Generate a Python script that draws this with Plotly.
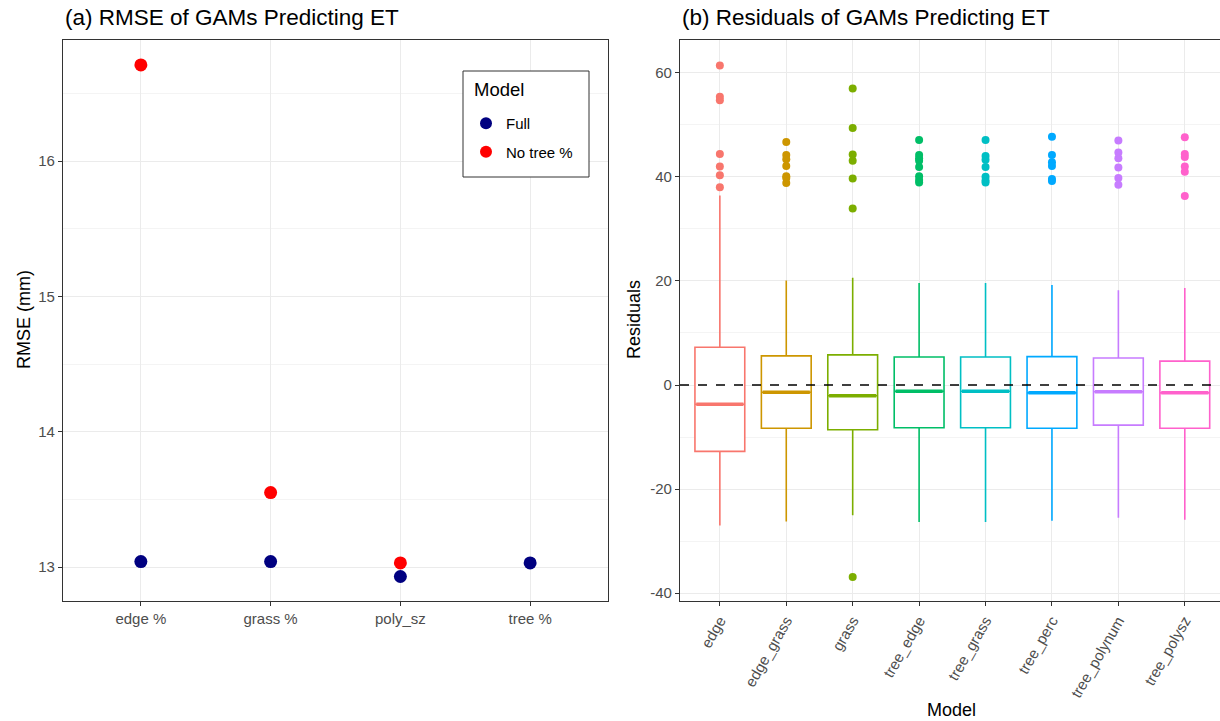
import plotly.graph_objects as go

# ---- Panel (a) data ----
rmse_vars = ["edge %", "grass %", "poly_sz", "tree %"]
rmse_full = [13.04, 13.04, 12.93, 13.03]
rmse_notree = [16.71, 13.55, 13.03, None]

# ---- Panel (b) data ----
models = ["edge", "edge_grass", "grass", "tree_edge", "tree_grass", "tree_perc", "tree_polynum", "tree_polysz"]
q1 = [-12.75, -8.3, -8.6, -8.2, -8.2, -8.3, -7.7, -8.3]
median = [-3.7, -1.4, -2.05, -1.2, -1.2, -1.5, -1.3, -1.5]
q3 = [7.25, 5.6, 5.8, 5.4, 5.4, 5.45, 5.2, 4.6]
lower_whisker = [-27.0, -26.2, -25.0, -26.3, -26.3, -26.1, -25.5, -25.9]
upper_whisker = [36.4, 20.1, 20.6, 19.6, 19.6, 19.2, 18.2, 18.65]
outliers = [
    [61.4, 55.4, 54.7, 44.4, 42.0, 40.3, 38.0],
    [46.7, 44.2, 43.4, 42.1, 40.1, 39.8, 38.8],
    [57.0, 49.4, 44.3, 43.1, 39.7, 33.9, -36.9],
    [47.1, 44.2, 43.6, 43.1, 41.9, 40.1, 39.4, 38.9],
    [47.1, 44.0, 43.3, 41.9, 40.0, 39.3, 38.9],
    [47.7, 44.2, 42.8, 42.1, 39.6, 39.2],
    [47.0, 44.7, 43.6, 41.8, 39.8, 38.5],
    [47.6, 44.4, 43.8, 42.0, 41.0, 36.3],
]
colors = ["#F8766D", "#CD9600", "#7CAE00", "#00BE67", "#00BFC4", "#00A9FF", "#C77CFF", "#FF61CC"]
resid_ticks = [-40, -20, 0, 20, 40, 60]
resid_ticktext = ["-40", "-20", "0", "20", "40", "60"]

FONT = "Liberation Sans, Arial, sans-serif"
TICK_COLOR = "#4D4D4D"
BORDER = "#333333"
GRID = "#EBEBEB"
GRID_MINOR = "#F4F4F4"

W, H = 1220, 721

fig = go.Figure()

# Panel (a)
fig.add_trace(go.Scatter(
    x=list(range(len(rmse_vars))), y=rmse_full, mode="markers", name="Full",
    legendgroup="full",
    marker=dict(color="#000080", size=13), xaxis="x", yaxis="y"))
fig.add_trace(go.Scatter(
    x=list(range(len(rmse_vars))), y=rmse_notree, mode="markers", name="No tree %",
    legendgroup="notree",
    marker=dict(color="#FF0000", size=13), xaxis="x", yaxis="y"))

# Panel (b)
bw = 0.75
for i, m in enumerate(models):
    fig.add_trace(go.Box(
        x=[i], q1=[q1[i]], median=[median[i]], q3=[q3[i]],
        lowerfence=[lower_whisker[i]], upperfence=[upper_whisker[i]],
        width=bw, whiskerwidth=0, fillcolor="white",
        line=dict(color=colors[i], width=1.6), boxpoints=False,
        showlegend=False, xaxis="x2", yaxis="y2", hoverinfo="skip"))
    fig.add_trace(go.Scatter(
        x=[i - bw / 2 + 0.02, i + bw / 2 - 0.02], y=[median[i], median[i]], mode="lines",
        line=dict(color=colors[i], width=3.5), showlegend=False,
        xaxis="x2", yaxis="y2", hoverinfo="skip"))
    fig.add_trace(go.Scatter(
        x=[i] * len(outliers[i]), y=outliers[i], mode="markers",
        marker=dict(color=colors[i], size=8), showlegend=False,
        xaxis="x2", yaxis="y2"))

# dashed zero line
fig.add_shape(type="line", xref="x2 domain", yref="y2", x0=0, x1=1, y0=0, y1=0,
              line=dict(color="black", width=1.6, dash="dash"), layer="above")

# legend frame (drawn behind the legend entries)
fig.add_shape(type="rect", xref="paper", yref="paper",
              x0=463 / W, x1=589 / W, y0=1 - 177 / H, y1=1 - 71 / H,
              line=dict(color=BORDER, width=1), fillcolor="white", layer="above")

ydom = [1 - 601 / H, 1 - 40 / H]
common_axis = dict(showline=True, linecolor=BORDER, linewidth=1.2, ticks="outside",
                   ticklen=4, tickcolor=BORDER, tickwidth=1,
                   tickfont=dict(family=FONT, size=15, color=TICK_COLOR),
                   gridcolor=GRID, gridwidth=1.2, zeroline=False)

fig.update_layout(
    width=W, height=H,
    margin=dict(l=0, r=0, t=0, b=0),
    paper_bgcolor="white", plot_bgcolor="white",
    font=dict(family=FONT),
    xaxis=dict(domain=[63 / W, 608 / W], range=[-0.6, 3.6],
               tickvals=list(range(len(rmse_vars))), ticktext=rmse_vars,
               mirror=True, anchor="y", **common_axis),
    yaxis=dict(domain=ydom, range=[12.749, 16.894], tickvals=[13, 14, 15, 16],
               mirror=True, anchor="x",
               minor=dict(tickvals=[12.5, 13.5, 14.5, 15.5, 16.5], showgrid=True,
                          gridcolor=GRID_MINOR, gridwidth=1, ticks=""),
               **common_axis),
    xaxis2=dict(domain=[680 / W, 1.0], range=[-0.6, 7.53],
                tickvals=list(range(len(models))), ticktext=models, tickangle=-60,
                mirror=True, anchor="y2", **common_axis),
    yaxis2=dict(domain=ydom, range=[-41.5, 66.3], tickvals=resid_ticks,
                ticktext=resid_ticktext,
                mirror=False, anchor="x2",
                minor=dict(tickvals=[-30, -10, 10, 30, 50], showgrid=True,
                           gridcolor=GRID_MINOR, gridwidth=1, ticks=""),
                **common_axis),
    legend=dict(x=466 / W, y=1 - 137.5 / H, xanchor="left", yanchor="middle",
                bgcolor="rgba(0,0,0,0)", borderwidth=0,
                font=dict(family=FONT, size=15, color="black"),
                itemsizing="constant", tracegroupgap=6),
    showlegend=True,
)

annots = [
    dict(text="(a) RMSE of GAMs Predicting ET", x=63 / W, y=1 - 18 / H,
         xanchor="left", yanchor="middle", font=dict(size=22.5, color="black")),
    dict(text="(b) Residuals of GAMs Predicting ET", x=680 / W, y=1 - 18 / H,
         xanchor="left", yanchor="middle", font=dict(size=22.5, color="black")),
    dict(text="RMSE (mm)", x=24 / W, y=1 - 320 / H, textangle=-90,
         xanchor="center", yanchor="middle", font=dict(size=18, color="black")),
    dict(text="Residuals", x=634 / W, y=1 - 320 / H, textangle=-90,
         xanchor="center", yanchor="middle", font=dict(size=18, color="black")),
    dict(text="Model", x=951 / W, y=1 - 710 / H,
         xanchor="center", yanchor="middle", font=dict(size=18, color="black")),
    dict(text="Model", x=472 / W, y=1 - 90 / H,
         xanchor="left", yanchor="middle", font=dict(size=18.5, color="black")),
]
for a in annots:
    a.update(xref="paper", yref="paper", showarrow=False)
    a["font"]["family"] = FONT
    fig.add_annotation(**a)

fig.write_html("out.html", config={"displayModeBar": False},
               post_script="document.body.style.margin='0';document.body.style.overflow='hidden';")
